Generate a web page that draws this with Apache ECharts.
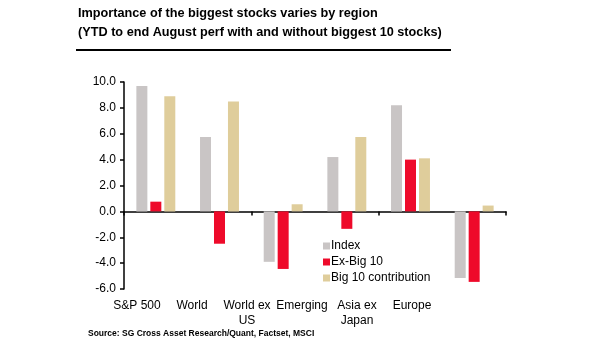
<!DOCTYPE html>
<html>
<head>
<meta charset="utf-8">
<script src="https://cdn.jsdelivr.net/npm/echarts@6/dist/echarts.min.js"></script>
<style>
    html, body { margin: 0; padding: 0; background: #fff; }
    #chart { width: 605px; height: 341px; }
</style>
</head>
<body>
<div id="chart"></div>
<script>
var regions = ['S&P 500', 'World', 'World ex\nUS', 'Emerging', 'Asia ex\nJapan', 'Europe'];
var indexPerf = [9.7, 5.75, -3.9, 4.2, 8.2, -5.15];
var exBig10 = [0.75, -2.5, -4.45, -1.35, 4.0, -5.45];
var big10Contrib = [8.9, 8.5, 0.55, 5.75, 4.1, 0.45];
var yTicks = [-6, -4, -2, 0, 2, 4, 6, 8, 10];

var font = 'Liberation Sans, Arial, sans-serif';

var barSeries = function (name, data, color) {
    return {
        name: name,
        type: 'bar',
        xAxisIndex: 0,
        yAxisIndex: 0,
        data: data,
        barWidth: 11,
        barGap: '27%',
        itemStyle: { color: color },
        emphasis: { disabled: true }
    };
};

var chart = echarts.init(document.getElementById('chart'), null, { renderer: 'canvas' });
chart.setOption({
    animation: false,
    backgroundColor: '#ffffff',
    title: {
        text: 'Importance of the biggest stocks varies by region\n(YTD to end August perf with and without biggest 10 stocks)',
        left: 73,
        top: -1,
        textStyle: {
            fontFamily: font,
            fontSize: 12.7,
            fontWeight: 'bold',
            color: '#000',
            lineHeight: 19
        }
    },
    graphic: [
        {
            type: 'rect',
            shape: { x: 76, y: 49, width: 375, height: 2 },
            style: { fill: '#000' }
        },
        {
            type: 'text',
            left: 88,
            top: 329,
            style: {
                text: 'Source: SG Cross Asset Research/Quant, Factset, MSCI',
                fontFamily: font,
                fontSize: 8.5,
                fontWeight: 'bold',
                fill: '#000'
            }
        }
    ],
    legend: {
        orient: 'vertical',
        left: 318,
        top: 235,
        itemWidth: 7,
        itemHeight: 7,
        itemGap: 4,
        icon: 'rect',
        selectedMode: false,
        textStyle: { fontFamily: font, fontSize: 12, color: '#000', padding: [0, 0, 0, -4] },
        data: ['Index', 'Ex-Big 10', 'Big 10 contribution']
    },
    grid: [
        { left: 124, right: 99, top: 82, bottom: 52, containLabel: false },
        // label row for the regions, spaced a little tighter than the bars
        { left: 109.5, right: 165.5, top: 82, bottom: 52, containLabel: false }
    ],
    xAxis: [
        {
            type: 'category',
            gridIndex: 0,
            data: regions,
            axisLine: { onZero: true, lineStyle: { color: '#000', width: 1.5 } },
            axisTick: { show: true, length: 4, lineStyle: { color: '#000', width: 1.5 } },
            axisLabel: { show: false }
        },
        {
            type: 'category',
            gridIndex: 1,
            data: regions,
            axisLine: { show: false },
            axisTick: { show: false },
            axisLabel: {
                interval: 0,
                fontFamily: font,
                fontSize: 12,
                color: '#000',
                lineHeight: 15,
                margin: 9
            }
        }
    ],
    yAxis: [
        {
            type: 'value',
            gridIndex: 0,
            min: yTicks[0],
            max: yTicks[yTicks.length - 1],
            interval: 2,
            axisLine: { show: true, lineStyle: { color: '#000', width: 1.5 } },
            axisTick: { show: true, length: 4, lineStyle: { color: '#000', width: 1.5 } },
            splitLine: { show: false },
            axisLabel: {
                fontFamily: font,
                fontSize: 12,
                color: '#000',
                margin: 8,
                formatter: function (v) { return v.toFixed(1); }
            }
        },
        {
            type: 'value',
            gridIndex: 1,
            show: false,
            min: yTicks[0],
            max: yTicks[yTicks.length - 1]
        }
    ],
    series: [
        barSeries('Index', indexPerf, '#c9c5c5'),
        barSeries('Ex-Big 10', exBig10, '#ee0a2a'),
        barSeries('Big 10 contribution', big10Contrib, '#dfcd9b')
    ]
});
</script>
</body>
</html>
